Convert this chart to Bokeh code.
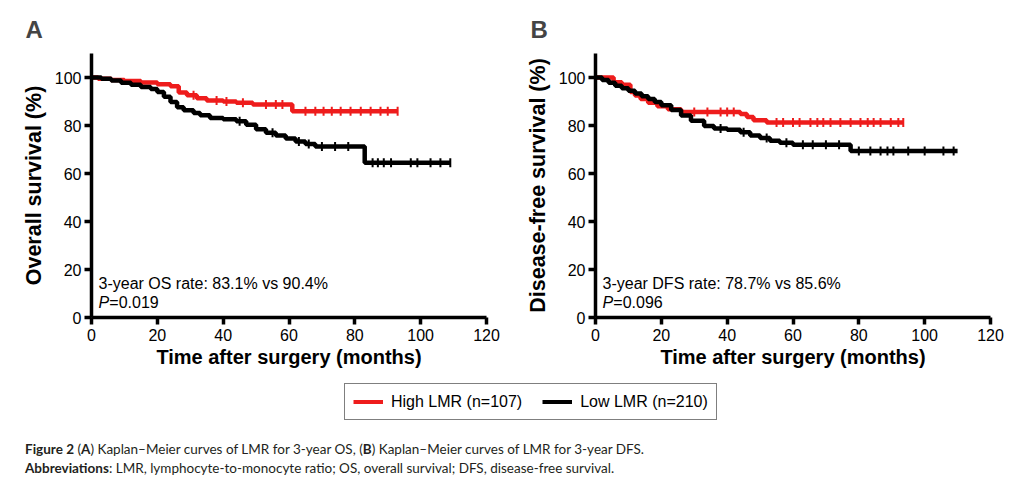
import numpy as np
from bokeh.plotting import figure
from bokeh.layouts import column, row
from bokeh.models import Range1d, Label, Legend, LegendItem, Div, FixedTicker
from bokeh.embed import file_html
from bokeh.resources import INLINE

# ---------------- data ----------------
x_ticks = [0, 20, 40, 60, 80, 100, 120]
y_ticks = [0, 20, 40, 60, 80, 100]

# Panel A: overall survival
os_high_t = [0, 2, 6, 10, 15, 20, 24, 26.5, 29, 32, 35, 40, 44, 49, 61, 93]
os_high_s = [100, 99.5, 99.0, 98.5, 97.9, 97.2, 96.4, 93.8, 92.6, 91.4, 90.4, 90.0, 89.5, 88.7, 85.9, 85.9]
os_high_c = [31, 38, 41, 46, 53, 56, 58, 65, 68, 70.5, 73, 75.7, 78.7, 81.8, 84.8, 87.8, 90, 93]

os_low_t = [0, 3, 6, 9, 12, 15, 18, 20, 22, 24, 26, 28, 31, 33, 36, 40, 44, 47, 50, 53, 56, 59, 62, 65, 68, 83, 109]
os_low_s = [100, 99.5, 98.8, 97.8, 97.0, 96.0, 95.2, 94.0, 92.0, 89.8, 87.6, 86.4, 85.2, 84.3, 83.1, 82.6, 81.8, 80.3, 78.4, 77.0, 75.8, 74.6, 73.3, 72.3, 71.2, 64.5, 64.5]
os_low_c = [45, 55, 63, 66, 70, 74, 78, 85.4, 87, 88.8, 91, 97, 99, 103, 106, 109]

# Panel B: disease-free survival
dfs_high_t = [0, 5.5, 8, 10.6, 12, 13.7, 16, 18.8, 22, 26, 44, 46, 48, 52, 93.5]
dfs_high_s = [100, 98.0, 97.0, 94.0, 92.5, 91.0, 89.5, 88.0, 86.8, 85.6, 84.8, 83.5, 82.2, 81.3, 81.3]
dfs_high_c = [30, 34, 38, 40, 42, 55, 57, 60, 62, 65.3, 67.4, 69.2, 71.4, 74.4, 77.5, 80.5, 82.7, 84.5, 86.6, 89.7, 92, 93.5]

dfs_low_t = [0, 2, 4, 6, 8, 10, 12, 14, 16, 18, 20, 23, 26, 29, 33, 36, 40, 44, 47, 50, 53, 56, 60, 77.5, 110]
dfs_low_s = [100, 99, 97.8, 96.6, 95.5, 94.5, 93.3, 92.2, 91.0, 89.8, 88.4, 86.5, 84.2, 82.0, 79.8, 78.7, 78.2, 77.2, 75.8, 74.8, 73.6, 72.8, 72.0, 69.4, 69.4]
dfs_low_c = [38, 45, 52, 58, 63, 66, 70, 74, 80, 83.5, 86.6, 88.7, 90.5, 95, 100, 105.7, 108.8]

RED = "#ee1c1c"
BLACK = "#000000"
FONT = "Liberation Sans"


def surv_at(ts, ss, c):
    ts = np.asarray(ts)
    ss = np.asarray(ss)
    idx = np.searchsorted(ts, np.asarray(c), side="right") - 1
    return ss[np.clip(idx, 0, len(ss) - 1)]


def km_panel(letter, ylabel, high, low, rate_text, pval, width, left_border, right_border, title_offset):
    p = figure(width=width, height=380, x_range=Range1d(0, 120), y_range=Range1d(0, 110),
               output_backend="svg", toolbar_location=None,
               min_border_left=left_border, min_border_right=right_border,
               min_border_top=53, min_border_bottom=63)
    p.outline_line_color = None
    p.xgrid.visible = False
    p.ygrid.visible = False
    p.xaxis.ticker = FixedTicker(ticks=x_ticks)
    p.yaxis.ticker = FixedTicker(ticks=y_ticks)
    for ax in (p.xaxis, p.yaxis):
        ax.axis_line_width = 3.5
        ax.major_tick_line_width = 3.5
        ax.major_tick_out = 7
        ax.major_tick_in = 0
        ax.minor_tick_line_color = None
        ax.major_label_text_font = FONT
        ax.major_label_text_font_size = "16px"
        ax.major_label_text_color = "black"
        ax.axis_label_text_font = FONT
        ax.axis_label_text_font_style = "bold"
        ax.axis_label_text_color = "black"
    p.xaxis.axis_label_text_font_size = "20px"
    p.yaxis.axis_label_text_font_size = "21.5px"
    p.xaxis.axis_label = "Time after surgery (months)"
    p.yaxis.axis_label = ylabel
    p.xaxis.major_label_standoff = 4
    p.yaxis.major_label_standoff = 3
    p.xaxis.axis_label_standoff = 2
    p.yaxis.axis_label_standoff = 6

    p.title.text = letter
    p.title.text_font = FONT
    p.title.text_font_size = "24px"
    p.title.text_font_style = "bold"
    p.title.align = "left"
    p.title.offset = title_offset
    p.title.standoff = 21

    for (t, s, c), col in ((high, RED), (low, BLACK)):
        p.step(t, s, mode="after", line_color=col, line_width=4.5)
        p.scatter(c, surv_at(t, s, c), marker="dash", angle=np.pi / 2, size=9,
                  line_color=col, line_width=2)

    fs = "16px"
    p.add_layout(Label(x=0, y=14.2, x_offset=7, text=rate_text, text_font=FONT,
                       text_font_size=fs, text_baseline="middle", text_color="black"))
    p.add_layout(Label(x=0, y=6.3, x_offset=7, text="P", text_font=FONT,
                       text_font_style="italic",
                       text_font_size=fs, text_baseline="middle", text_color="black"))
    p.add_layout(Label(x=0, y=6.3, x_offset=17.8, text=pval, text_font=FONT,
                       text_font_size=fs, text_baseline="middle", text_color="black"))
    return p


pA = km_panel("A", "Overall survival (%)",
              (os_high_t, os_high_s, os_high_c), (os_low_t, os_low_s, os_low_c),
              "3-year OS rate: 83.1% vs 90.4%", "=0.019", 512, 91, 26, -66)
pB = km_panel("B", "Disease-free survival (%)",
              (dfs_high_t, dfs_high_s, dfs_high_c), (dfs_low_t, dfs_low_s, dfs_low_c),
              "3-year DFS rate: 78.7% vs 85.6%", "=0.096", 498, 83, 20, -65)

# legend strip
pl = figure(width=1005, height=50, x_range=Range1d(0, 1), y_range=Range1d(0, 1),
            output_backend="svg", toolbar_location=None,
            min_border_left=0, min_border_right=0, min_border_top=0, min_border_bottom=0)
pl.axis.visible = False
pl.xgrid.visible = False
pl.ygrid.visible = False
pl.outline_line_color = None
items = []
for lab, col in (("High LMR (n=107)", RED), ("Low LMR (n=210)", BLACK)):
    rl = pl.line([5, 6], [5, 6], line_color=col, line_width=4)
    rm = pl.scatter([5], [5], marker="dash", angle=np.pi / 2, size=10, line_color=col, line_width=2.5)
    items.append(LegendItem(label=lab, renderers=[rl, rm]))
leg = Legend(items=items, orientation="horizontal", location=(344, 10),
             label_text_font=FONT, label_text_font_size="16px", label_text_color="black",
             glyph_width=30, glyph_height=19, label_standoff=8, spacing=20,
             padding=8, margin=0, border_line_color="black", border_line_width=1.5,
             background_fill_alpha=1)
pl.add_layout(leg, "center")

caption = Div(
    text=("<div style='font-family:Lato; font-size:13.5px; line-height:19px; color:#231f20;'>"
          "<b>Figure 2</b> (<b>A</b>) Kaplan–Meier curves of LMR for 3-year OS, (<b>B</b>) "
          "Kaplan–Meier curves of LMR for 3-year DFS.<br>"
          "<b>Abbreviations</b>: LMR, lymphocyte-to-monocyte ratio; OS, overall survival; "
          "DFS, disease-free survival.</div>"),
    width=1005, height=43, margin=(0, 0, 0, 0),
    styles={"padding-left": "25px", "padding-top": "10px"})

layout = column(row(pA, pB), pl, caption)
open("out.html", "w").write(file_html(layout, INLINE))
